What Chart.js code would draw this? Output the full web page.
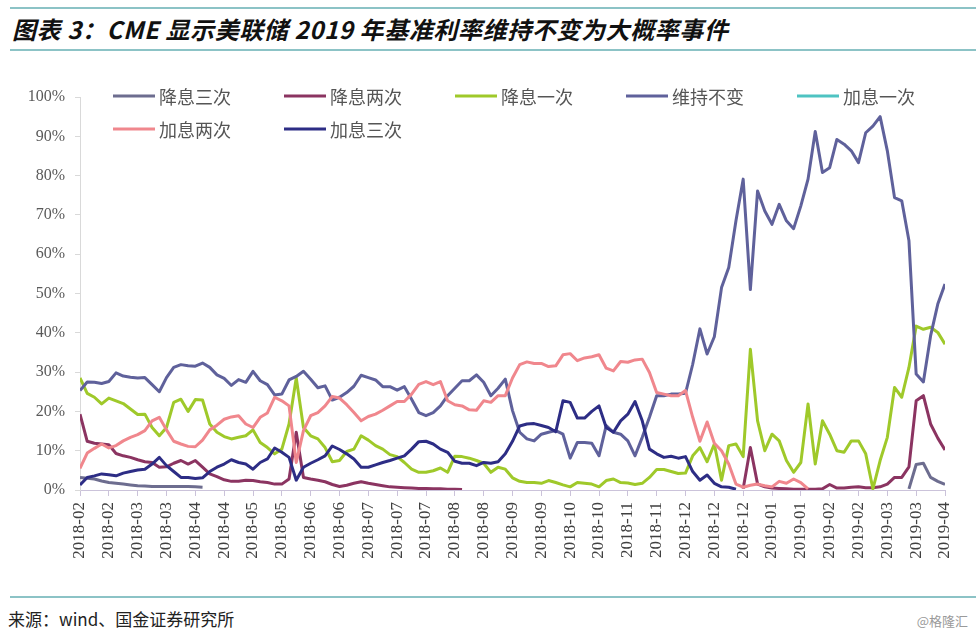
<!DOCTYPE html>
<html>
<head>
<meta charset="utf-8">
<script src="https://cdn.jsdelivr.net/npm/chart.js@4.4.1/dist/chart.umd.min.js"></script>
<style>
  body { margin: 0; width: 980px; height: 636px; background: #fff; position: relative; overflow: hidden; font-family: "Noto Sans CJK SC", sans-serif; }
  .rule { position: absolute; left: 10px; right: 4px; height: 2px; background: #8cc3c6; }
  #title { position: absolute; left: 12px; top: 11px; font-size: 24px; letter-spacing: 0.6px; font-weight: bold; font-style: italic; color: #111; white-space: nowrap; }
  #chart { position: absolute; left: 0; top: 55px; }
  #source { position: absolute; left: 8px; top: 606px; font-size: 17px; color: #222; }
  #mark { position: absolute; right: 12px; top: 611px; font-size: 13px; color: #9a9a9a; }
</style>
</head>
<body>
<div class="rule" style="top:7px"></div>
<div id="title">图表 3：CME 显示美联储 2019 年基准利率维持不变为大概率事件</div>
<div class="rule" style="top:49px"></div>
<canvas id="chart" width="980" height="535"></canvas>
<div class="rule" style="top:596px"></div>
<div id="source">来源：wind、国金证券研究所</div>
<div id="mark">@格隆汇</div>

<script>
// x axis tick labels (one per tick)
const xTickLabels = [
  "2018-02", "2018-02", "2018-03", "2018-03", "2018-04", "2018-04", "2018-05", "2018-05",
  "2018-06", "2018-06", "2018-07", "2018-07", "2018-07", "2018-08", "2018-08", "2018-09",
  "2018-09", "2018-10", "2018-10", "2018-11", "2018-11", "2018-12", "2018-12", "2018-12",
  "2019-01", "2019-01", "2019-02", "2019-02", "2019-03", "2019-03", "2019-04"
];
const yTickStep = 10;

// probabilities (%), 4 readings per tick interval, null = no line
const step = 0.25;

const cutThrice = [
  3.2, 3.0, 2.8, 2.3,  1.9, 1.7, 1.5, 1.3,  1.1, 1.0, 0.9, 0.9,  0.9, 0.9, 0.9, 0.9,
  0.8, 0.7, null, null,  null, null, null, null,  null, null, null, null,  null, null, null, null,
  null, null, null, null,  null, null, null, null,  null, null, null, null,  null, null, null, null,
  null, null, null, null,  null, null, null, null,  null, null, null, null,  null, null, null, null,
  null, null, null, null,  null, null, null, null,  null, null, null, null,  null, null, null, null,
  null, null, null, null,  null, null, null, null,  null, null, null, null,  null, null, null, null,
  null, null, null, null,  null, null, null, null,  null, null, null, null,  null, null, null, null,
  null, null, null, 0.3,  6.5, 6.8, 3.2, 2.2,
  1.4
];

const cutTwice = [
  19.3, 12.4, 11.9, 11.7,  11.5, 9.3, 8.7, 8.3,  7.7, 7.2, 7.0, 5.8,  5.9, 6.8, 7.5, 6.6,
  7.5, 5.8, 4.1, 3.4,  2.6, 2.2, 2.2, 2.5,  2.4, 2.1, 1.9, 1.5,  1.5, 2.8, 14.7, 3.2,
  2.8, 2.5, 2.1, 1.4,  0.9, 1.2, 1.7, 2.1,  1.7, 1.4, 1.1, 0.8,  0.7, 0.6, 0.5, 0.4,
  0.4, 0.3, 0.3, 0.2,  0.2, 0.1, null, null,  null, null, null, null,  null, null, null, null,
  null, null, null, null,  null, null, null, null,  null, null, null, null,  null, null, null, null,
  null, null, null, null,  null, null, null, null,  null, null, null, null,  0.3, 10.8, 1.5, 0.8,
  0.5, 0.4, 0.3, 0.2,  0.2, 0.2, 0.2, 0.3,  1.4, 0.5, 0.5, 0.7,  0.8, 0.6, 0.6, 0.8,
  1.5, 3.2, 3.2, 5.9,  22.7, 24.0, 16.8, 13.2,
  10.2
];

const cutOnce = [
  28.5, 24.6, 23.6, 21.9,  23.4, 22.7, 22.0, 20.6,  19.2, 19.3, 15.9, 13.8,  15.9, 22.3, 23.1, 20.0,
  23.0, 22.9, 16.8, 14.7,  13.6, 13.0, 13.4, 13.8,  15.3, 12.1, 10.8, 9.2,  10.4, 16.8, 28.5, 15.9,
  13.8, 13.0, 10.8, 7.2,  7.5, 9.8, 10.4, 13.8,  12.7, 11.3, 10.4, 9.0,  8.5, 7.0, 5.3, 4.5,
  4.5, 4.9, 5.6, 4.5,  8.6, 8.5, 8.1, 7.5,  6.8, 4.5, 5.8, 5.3,  3.1, 2.2, 1.9, 1.9,
  1.7, 2.4, 1.9, 1.3,  0.8, 1.9, 1.7, 1.5,  0.8, 2.4, 2.8, 1.9,  1.8, 1.4, 1.7, 3.2,
  5.2, 5.2, 4.7, 4.2,  4.3, 8.7, 10.8, 7.2,  11.7, 2.5, 11.3, 11.7,  8.5, 35.8, 17.6, 10.0,
  14.2, 12.5, 7.5, 4.5,  7.0, 21.9, 6.6, 17.6,  14.2, 10.0, 9.6, 12.5,  12.5, 9.2, 0.3, 7.5,
  13.4, 26.1, 23.6, 31.2,  41.7, 40.9, 41.4, 40.1,
  37.1
];

const holdSteady = [
  25.3, 27.5, 27.4, 27.1,  27.6, 29.8, 29.0, 28.7,  28.5, 28.6, 26.8, 25.0,  28.6, 31.2, 31.9, 31.6,
  31.5, 32.3, 31.2, 29.3,  28.4, 26.6, 28.1, 27.4,  30.2, 27.8, 26.8, 24.2,  24.4, 28.0, 28.9, 30.2,
  28.2, 26.0, 26.5, 22.9,  23.6, 24.8, 26.4, 29.2,  28.6, 28.0, 26.3, 26.3,  25.4, 26.3, 23.1, 19.7,
  18.9, 19.7, 21.4, 24.0,  25.9, 27.8, 27.8, 29.3,  27.4, 24.0, 25.9, 28.2,  20.2, 14.7, 13.0, 12.5,
  14.2, 14.7, 15.1, 14.2,  8.1, 12.1, 12.1, 11.9,  8.7, 16.4, 14.7, 14.2,  12.5, 8.7, 13.4, 18.5,
  24.0, 24.0, 24.4, 24.4,  24.6, 32.0, 41.0, 34.6,  39.0, 51.5, 56.6, 68.5,  79.1, 51.0, 76.1, 71.0,
  67.6, 72.7, 68.5, 66.5,  72.3, 79.1, 91.2, 80.8,  82.0, 89.2, 88.0, 86.3,  83.3, 90.9, 92.6, 95.0,
  86.3, 74.4, 73.6, 63.4,  29.5, 27.5, 39.2, 47.3,
  52.4
];

const hikeOnce = [];

const hikeTwice = [
  5.5, 9.4, 10.6, 11.7,  10.7, 11.3, 12.5, 13.4,  14.1, 15.1, 17.6, 18.5,  15.3, 12.4, 11.7, 11.1,
  11.0, 12.7, 15.3, 16.5,  18.0, 18.6, 18.9, 16.8,  15.9, 18.5, 19.6, 23.6,  22.7, 21.4, 7.0, 15.1,
  18.9, 19.7, 21.4, 23.8,  23.4, 21.7, 19.7, 17.6,  18.7, 19.3, 20.3, 21.4,  22.5, 22.5, 24.4, 26.9,
  27.6, 26.8, 27.6, 22.7,  21.7, 21.4, 20.4, 20.3,  22.7, 22.3, 24.0, 24.0,  28.5, 31.9, 32.6, 32.2,
  32.2, 31.4, 31.6, 34.4,  34.7, 32.9, 33.6, 33.9,  34.4, 31.0, 30.3, 32.7,  32.5, 33.1, 33.3, 29.9,
  24.8, 24.4, 24.0, 24.0,  25.3, 18.5, 12.4, 17.3,  11.9, 10.0, 6.6, 1.5,  0.7, 1.2, 1.5, 1.1,
  0.8, 2.2, 1.7, 2.8,  1.9, 0.3, null, null,  null, null, null, null,  null, null, null, null,
  null, null, null, null,  null, null, null, null,
  null
];

const hikeThrice = [
  1.3, 3.2, 3.6, 4.1,  3.9, 3.6, 4.3, 4.7,  5.1, 5.3, 6.6, 8.3,  6.2, 4.7, 3.2, 3.2,
  2.9, 3.1, 4.7, 5.8,  6.6, 7.7, 7.0, 6.6,  5.3, 7.0, 7.9, 10.7,  9.6, 8.3, 2.5, 5.8,
  6.8, 7.7, 8.7, 11.2,  10.3, 9.2, 7.9, 5.8,  5.8, 6.4, 7.0, 7.5,  8.1, 8.7, 10.4, 12.3,
  12.4, 11.7, 10.4, 9.6,  7.3, 6.8, 6.8, 6.2,  7.0, 6.8, 7.2, 9.2,  12.4, 16.3, 16.8, 16.9,
  16.4, 15.9, 14.8, 22.7,  22.3, 18.3, 18.3, 20.0,  21.4, 15.9, 14.7, 17.6,  19.3, 22.5, 17.6, 10.4,
  9.2, 8.3, 8.6, 8.1,  8.5, 4.7, 2.5, 3.8,  1.7, 0.8, 0.7, 0.2,  null, null, null, null,
  null, null, null, null,  null, null, null, null,  null, null, null, null,  null, null, null, null,
  null, null, null, null,  null, null, null, null,
  null
];

const seriesNames = ["降息三次", "降息两次", "降息一次", "维持不变", "加息一次", "加息两次", "加息三次"];
const seriesValues = [cutThrice, cutTwice, cutOnce, holdSteady, hikeOnce, hikeTwice, hikeThrice];
const seriesColors = ["#6d6d8f", "#8b3461", "#9fc92a", "#5f619b", "#4ec3c2", "#f0878d", "#2d2d85"];

const toPoints = (vals) => vals.map((v, i) => ({ x: i * step, y: v }));

const datasets = seriesNames.map((name, i) => ({
  label: name,
  data: toPoints(seriesValues[i]),
  borderColor: seriesColors[i],
  backgroundColor: seriesColors[i],
  borderWidth: 3,
  borderJoinStyle: "round",
  pointRadius: 0,
  fill: false,
  spanGaps: false,
  order: seriesNames.length - i // later series on top
}));

// legend drawn inside the plot, two rows, fixed columns
const gridLegend = {
  id: "gridLegend",
  afterDraw(chart) {
    const ctx = chart.ctx;
    ctx.save();
    ctx.font = '18px "Noto Sans CJK SC"';
    ctx.textBaseline = "middle";
    ctx.fillStyle = "#555";
    chart.data.datasets.forEach((ds, i) => {
      const col = i % 5, row = Math.floor(i / 5);
      const x = 113 + col * 171;
      const y = 41 + row * 33;
      ctx.strokeStyle = ds.borderColor;
      ctx.lineWidth = 3;
      ctx.beginPath();
      ctx.moveTo(x, y);
      ctx.lineTo(x + 42, y);
      ctx.stroke();
      ctx.fillText(ds.label, x + 46, y + 1);
    });
    ctx.restore();
  }
};

const tickFont = { family: "Liberation Serif", size: 16 };

new Chart(document.getElementById("chart"), {
  type: "line",
  data: { datasets },
  options: {
    responsive: false,
    animation: false,
    layout: { padding: { left: 0, top: 42, right: 35, bottom: 0 } },
    plugins: { legend: { display: false }, tooltip: { enabled: false } },
    scales: {
      x: {
        type: "linear",
        min: 0,
        max: xTickLabels.length - 1,
        afterFit(s) { s.height = 100; },
        border: { color: "#cbc3da", width: 1 },
        grid: { drawOnChartArea: false, drawTicks: true, tickLength: 6, color: "#cbc3da" },
        ticks: {
          stepSize: 1,
          autoSkip: false,
          minRotation: 90,
          maxRotation: 90,
          padding: 6,
          color: "#404040",
          font: { family: "Liberation Serif", size: 17 },
          callback: (v) => xTickLabels[v]
        }
      },
      y: {
        min: 0,
        max: 100,
        afterFit(s) { s.width = 80; },
        border: { color: "#d9d9d9", width: 1 },
        grid: { drawOnChartArea: false, drawTicks: true, tickLength: 5, color: "#d9d9d9" },
        ticks: {
          stepSize: yTickStep,
          padding: 10,
          color: "#595959",
          font: tickFont,
          callback: (v) => v + "%"
        }
      }
    }
  },
  plugins: [gridLegend]
});
</script>
</body>
</html>
